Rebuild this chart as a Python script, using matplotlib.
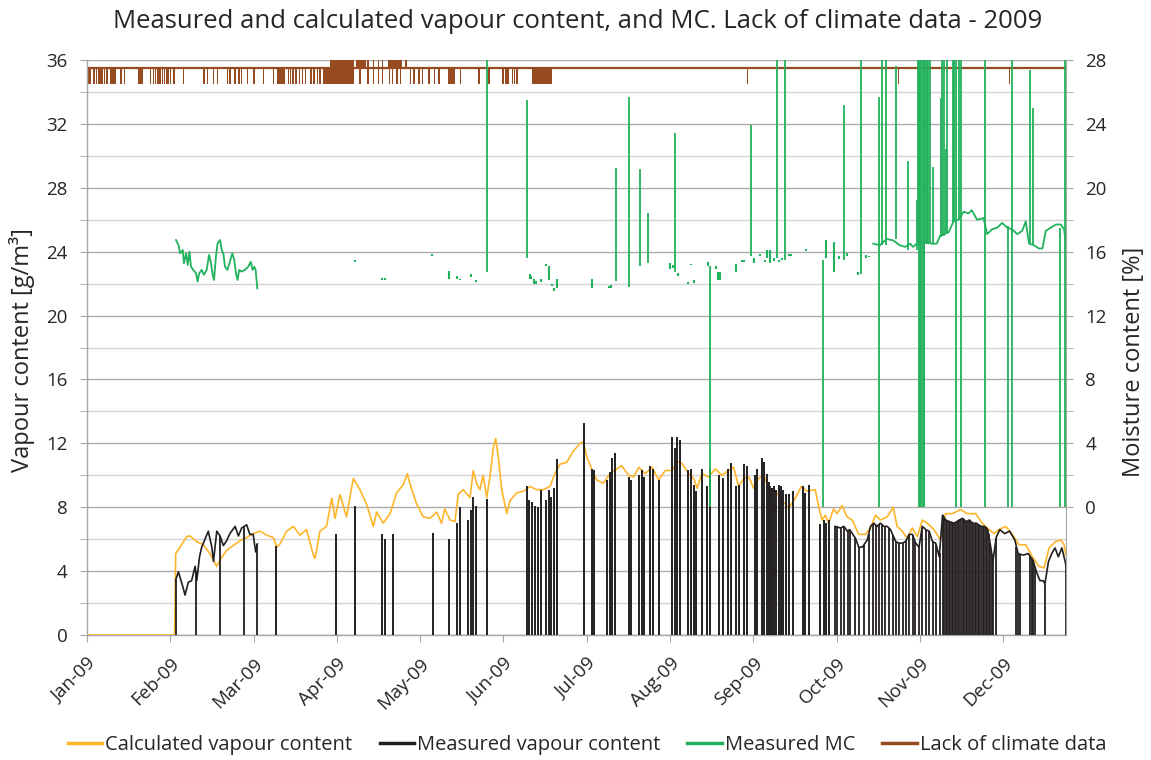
import numpy as np
import matplotlib
matplotlib.use("Agg")
import matplotlib.pyplot as plt
from matplotlib.lines import Line2D
from matplotlib.ticker import MultipleLocator, FixedLocator

plt.rcParams['font.family'] = ['Open Sans', 'DejaVu Sans']

# ---------------- data (x in days from 1 Jan 2009) ----------------
month_labels = ['Jan-09', 'Feb-09', 'Mar-09', 'Apr-09', 'May-09', 'Jun-09',
                'Jul-09', 'Aug-09', 'Sep-09', 'Oct-09', 'Nov-09', 'Dec-09']
label_step_days = 30.42
last_day = 357.6

# Calculated vapour content [g/m3]
calc_days = [0, 32.0, 32.4, 34.0, 36.4, 37.6, 40.1, 42.5, 44.9, 47.4, 48.6, 51.0, 53.4, 55.9,
             58.3, 60.7, 63.2, 65.6, 68.1, 69.3, 70.5, 72.9, 75.4, 77.8, 80.2, 82.7, 83.3, 85.1,
             87.5, 89.4, 90.6, 92.4, 94.8, 96.1, 97.3, 99.7, 102.1, 104.6, 105.8, 108.2, 110.7,
             113.1, 115.5, 117.0, 117.9, 120.4, 122.8, 125.3, 127.7, 129.5, 130.7, 132.6, 134.4,
             135.6, 137.4, 139.9, 141.1, 142.3, 143.5, 144.7, 146.0, 147.2, 148.4, 149.3, 150.2,
             151.5, 153.3, 154.5, 156.9, 159.4, 161.8, 164.2, 166.7, 169.1, 170.9, 172.8, 175.2,
             177.6, 180.1, 181.3, 182.5, 184.3, 186.2, 188.6, 191.0, 193.5, 195.3, 197.8, 199.6,
             201.6, 203.9, 206.4, 208.8, 211.2, 213.7, 215.5, 217.3, 219.8, 221.6, 222.9, 224.6,
             227.0, 229.5, 231.9, 234.4, 236.2, 238.0, 239.9, 241.7, 243.5, 245.3, 247.2, 249.0,
             251.5, 253.9, 256.3, 258.7, 260.9, 263.0, 266.0, 267.3, 268.5, 269.7, 270.9, 272.7,
             274.0, 275.8, 277.6, 279.5, 281.9, 284.3, 286.2, 288.0, 289.8, 292.3, 294.5, 295.9,
             297.8, 299.6, 301.4, 303.3, 305.1, 306.9, 309.4, 311.8, 313.6, 316.1, 319.1, 321.5,
             324.6, 327.0, 329.5, 331.3, 333.1, 335.6, 338.0, 340.4, 342.9, 345.3, 347.7, 349.6,
             351.4, 353.8, 355.7, 356.9, 357.6]
calc_vals = [0, 0, 5.1, 5.5, 6.16, 6.2, 5.85, 5.65, 5.1, 4.3, 4.7, 5.3, 5.6, 5.9,
             6.1, 6.35, 6.5, 6.25, 6.1, 5.5, 5.7, 6.5, 6.8, 6.25, 6.6, 5.0, 4.8, 6.5,
             6.8, 8.56, 7.3, 8.8, 7.4, 8.7, 9.8, 9.1, 8.2, 6.8, 7.7, 7.0, 7.6,
             8.9, 9.4, 10.1, 9.5, 8.2, 7.4, 7.3, 7.7, 7.0, 7.9, 7.2, 7.1,
             8.8, 9.1, 8.6, 10.3, 9.5, 9.1, 10.0, 8.6, 9.9, 11.7, 12.3, 11.2,
             9.1, 7.6, 8.4, 8.9, 9.0, 9.3, 9.1, 9.1, 9.3, 10.1, 10.7, 10.8,
             11.5, 12.0, 12.1, 11.2, 10.4, 9.7, 9.5, 10.1, 10.4, 10.6, 10.0, 9.9,
             10.5, 10.1, 10.5, 9.7, 10.3, 10.3, 10.85, 10.75, 10.1, 9.8, 9.2, 10.1,
             9.9, 10.4, 10.0, 10.3, 10.5, 9.3, 9.8, 9.9, 9.2, 9.8, 10.0, 9.2,
             9.0, 8.45, 7.95, 8.55, 9.3, 9.0, 9.1, 8.0, 7.2, 7.5, 7.0, 7.9,
             7.6, 8.1, 7.4, 7.2, 6.3, 6.3, 6.7, 7.5, 7.2, 7.4, 8.0, 6.8,
             6.5, 6.05, 6.7, 6.15, 7.2, 7.0, 6.6, 5.95, 7.6, 7.6, 7.85, 7.6,
             7.6, 7.0, 6.6, 6.35, 6.6, 6.8, 6.3, 5.65, 5.65, 4.9, 4.3, 4.2,
             5.45, 5.85, 5.95, 5.65, 5.0]

# Measured vapour content [g/m3] - continuous record, February-March
meas1_days = [32.4, 33.4, 35.2, 35.8, 37.0, 38.2, 39.5, 40.1, 41.1, 41.9, 43.1, 44.3, 45.6, 46.2,
              47.4, 48.6, 49.8, 51.0, 52.2, 54.1, 55.3, 56.5, 58.3, 59.5, 60.7, 61.6, 62.2]
meas1_vals = [3.44, 3.96, 2.9, 2.5, 3.3, 3.4, 4.3, 3.4, 4.9, 5.5, 6.0, 6.5, 5.5, 4.6,
              6.5, 6.2, 5.6, 5.9, 6.35, 6.8, 6.2, 6.7, 6.9, 6.3, 6.3, 5.2, 5.7]
meas1_zero_days = [32.4, 39.7, 48.6, 57.3, 62.2]

# Measured vapour content - short readings (record otherwise zero), March-October
meas_spike_days = [69.0, 90.9, 97.9, 107.6, 108.8, 111.6, 126.3, 132.1, 135.3, 136.2, 139.0, 140.2,
                   141.1, 142.1, 146.0, 160.6, 161.6, 162.7, 163.6, 164.9, 165.8, 167.7, 168.8,
                   169.6, 170.6, 171.5, 181.5, 184.3, 185.2, 190.1, 191.0, 191.9, 192.8, 197.8,
                   198.8, 201.7, 202.6, 203.6, 205.7, 206.6, 208.8, 213.7, 214.6, 215.5, 216.5,
                   219.5, 220.7, 221.6, 222.5, 224.6, 226.4, 227.6, 230.7, 232.3, 234.0, 235.2,
                   237.0, 238.0, 240.0, 241.1, 244.1, 244.9, 246.6, 247.4, 248.4, 249.0, 249.6,
                   250.3, 250.8, 251.8, 252.6, 253.5, 254.4, 255.4, 256.3, 257.8, 261.4, 262.4,
                   263.6, 267.7, 269.2, 270.1, 270.9]
meas_spike_vals = [5.6, 6.3, 8.1, 6.35, 6.0, 6.3, 6.4, 6.0, 7.0, 8.0, 7.2, 7.85,
                   8.65, 8.1, 8.5, 9.3, 8.45, 8.35, 8.1, 8.0, 9.1, 8.45, 9.1,
                   8.65, 9.2, 11.0, 13.3, 10.4, 10.3, 9.7, 10.2, 11.1, 11.4, 9.9,
                   9.7, 10.0, 10.3, 9.9, 10.6, 10.4, 9.7, 12.4, 11.7, 12.4, 12.2,
                   10.3, 10.4, 9.4, 9.0, 10.4, 9.3, 10.4, 10.0, 9.8, 10.4, 10.8,
                   9.3, 9.4, 10.7, 10.6, 10.0, 10.4, 11.1, 10.85, 10.1, 9.6, 9.3,
                   9.2, 9.3, 9.1, 9.4, 9.3, 9.1, 8.8, 8.8, 9.0, 9.3, 8.9,
                   9.4, 6.95, 7.2, 7.0, 7.2]

# Measured vapour content - continuous record, October-December
meas2_days = [273.4, 275.2, 276.5, 277.7, 278.6, 280.7, 281.9, 283.2, 285.0, 286.2, 287.4, 288.6,
              289.8, 291.1, 292.3, 293.5, 295.4, 296.6, 297.8, 299.0, 300.3, 301.5, 302.7, 303.9,
              305.1, 306.4, 307.6, 308.8, 310.0, 311.3, 312.5, 313.7, 315.0, 316.8, 318.6, 319.8,
              321.1, 322.3, 323.5, 324.8, 326.6, 327.8, 329.0, 330.3, 330.9, 332.1, 333.4, 335.2,
              337.0, 338.9, 340.1, 342.0, 343.8, 345.6, 346.9, 348.1, 349.3, 349.9, 351.2, 352.4,
              353.6, 354.8, 356.1, 357.3, 357.6]
meas2_vals = [6.8, 6.7, 6.8, 6.5, 6.6, 6.05, 5.5, 5.5, 5.95, 6.8, 7.0, 6.8,
              7.0, 6.8, 6.8, 6.6, 5.85, 5.75, 5.75, 5.85, 6.3, 6.3, 5.75, 5.5,
              6.8, 6.6, 6.5, 5.85, 5.75, 4.9, 7.5, 7.2, 7.1, 7.0, 7.2, 7.3,
              7.1, 7.2, 7.0, 7.0, 6.8, 6.8, 6.6, 5.3, 4.6, 6.1, 6.6, 6.35,
              6.5, 5.95, 5.1, 5.0, 5.1, 4.65, 3.9, 3.4, 3.4, 3.2, 4.6, 5.1,
              5.45, 4.9, 5.45, 4.6, 4.3]
meas2_zero_days = [273.4, 273.8, 275.4, 276.6, 277.8, 278.7, 280.5, 282.1, 283.7, 285.5, 287.0,
                   288.2, 289.4, 290.4, 291.6, 292.8, 294.3, 295.5, 296.7, 297.9, 299.2, 300.4,
                   301.6, 302.6, 303.8, 305.0, 306.4, 307.7, 308.9, 310.1, 311.4,
                   312.5, 313.0, 313.6, 314.1, 314.7, 315.3, 315.8, 316.4, 317.0, 317.5, 318.1,
                   318.6, 319.2, 319.8, 320.3, 320.9, 321.5, 322.0, 322.6, 323.1, 323.7, 324.3,
                   324.8, 325.4, 326.0, 326.5, 327.1, 327.6, 328.2, 328.8, 329.3, 329.9, 330.5,
                   331.0, 332.1, 339.5, 340.1, 340.7, 344.4, 345.0, 345.6, 346.3, 349.9, 357.6]

# Measured MC [%] - continuous records
mc1_days = [32.5, 33.4, 34.0, 35.0, 35.4, 36.2, 36.8, 37.4, 38.0, 38.8, 39.8, 40.4, 41.0, 41.9,
            42.7, 43.7, 44.6, 45.2, 45.9, 46.4, 47.1, 47.7, 48.6, 49.2, 49.8, 50.4, 51.3, 52.2,
            53.1, 53.8, 54.4, 55.0, 55.6, 56.5, 57.7, 58.9, 59.8, 60.5, 61.1, 61.6, 62.2]
mc1_vals = [16.73, 16.42, 15.9, 16.1, 15.27, 15.9, 15.17, 16.0, 15.06, 14.86, 14.65, 14.13,
            14.65, 14.86, 14.55, 14.86, 15.8, 15.37, 14.55, 14.23, 15.7, 16.52, 16.73, 16.1,
            15.9, 15.06, 14.86, 15.37, 15.9, 15.48, 14.65, 14.23, 14.86, 14.75, 14.86, 15.06,
            15.37, 14.86, 15.06, 14.86, 13.7]
mc2_days = [287.2, 289.6, 292.1, 294.5, 296.9, 298.8, 300.6, 301.8, 303.6, 306.7, 308.5, 310.4,
            311.6, 312.8, 314.7, 316.5, 318.3, 320.2, 322.0, 323.2, 325.1, 327.5, 328.8, 330.6,
            332.4, 334.3, 336.1, 337.9, 339.8, 341.6, 342.9, 344.1, 345.9, 347.7, 349.0, 350.2,
            352.0, 353.9, 355.7, 356.9, 357.6]
mc2_vals = [16.5, 16.4, 16.8, 16.7, 16.4, 16.3, 16.5, 16.3, 16.6, 16.6, 16.5, 16.5,
            17.0, 17.1, 17.2, 17.9, 18.0, 18.5, 18.4, 18.6, 18.0, 18.1, 17.1, 17.4,
            17.5, 17.8, 17.5, 17.4, 17.1, 17.3, 17.9, 16.5, 16.4, 16.2, 16.2, 17.3,
            17.5, 17.7, 17.7, 17.4, 16.4]
# Measured MC - isolated short readings (day, low, high)
mc_bit_days = [97.9, 107.6, 108.8, 126.2, 132.1, 135.3, 136.2, 140.2, 142.1, 161.8, 162.3, 163.3,
               163.9, 165.7, 167.7, 168.7, 169.7, 170.6, 171.5, 184.3, 190.8, 191.4, 212.9, 213.9,
               216.0, 219.6, 220.8, 221.7, 226.7, 229.6, 230.6, 231.1, 237.2, 239.4, 239.9, 243.7,
               245.8, 247.7, 248.4, 249.5, 251.0, 252.6, 253.8, 256.5, 257.2, 262.8, 269.8, 272.8,
               274.7, 277.5, 281.7, 284.5, 285.6]
mc_bit_lo = [15.35, 14.2, 14.2, 15.75, 14.3, 14.3, 14.2, 14.4, 14.1, 14.3, 14.3, 14.0,
             14.0, 14.1, 15.1, 14.2, 13.85, 13.55, 13.7, 13.7, 13.7, 13.75, 14.9, 15.0,
             14.5, 14.0, 15.15, 14.05, 15.1, 14.9, 14.2, 14.2, 14.7, 15.35, 15.35, 15.3,
             15.75, 15.35, 15.6, 15.3, 15.4, 15.35, 15.5, 15.75, 15.75, 16.05, 15.6, 14.7,
             15.55, 15.7, 14.55, 15.6, 15.65]
mc_bit_hi = [15.5, 14.35, 14.35, 15.85, 14.8, 14.5, 14.3, 14.6, 14.25, 14.6, 14.45, 14.3,
             14.15, 14.3, 15.25, 15.1, 13.95, 13.7, 14.3, 14.3, 13.85, 13.9, 15.3, 15.15,
             14.65, 14.1, 15.25, 14.2, 15.35, 15.1, 14.7, 14.7, 15.2, 15.45, 15.45, 15.6,
             15.85, 15.45, 16.1, 16.1, 15.6, 15.5, 15.6, 15.85, 15.85, 16.15, 16.7, 16.6,
             15.7, 15.9, 14.7, 15.8, 15.75]
# Measured MC - spikes (day, low, high); 40 = off scale
mc_spike_days = [146.0, 160.6, 193.1, 198.1, 202.0, 205.0, 214.9, 227.5, 242.5, 251.9, 255.0,
                 268.8, 276.5, 282.6, 289.2, 290.5, 291.7, 295.6, 300.0, 303.0, 303.6, 304.0,
                 304.4, 304.8, 305.2, 305.6, 305.9, 306.3, 306.7, 307.2, 308.1, 309.1, 311.8,
                 312.4, 313.0, 313.7, 314.3, 316.2, 316.8, 317.6, 318.5, 319.1, 327.9, 336.5,
                 338.0, 344.3, 345.4, 355.5, 357.3]
mc_spike_lo = [14.75, 15.6, 14.16, 13.77, 15.08, 15.3, 14.75, 0, 15.75, 15.6, 15.5,
               0, 15.5, 14.6, 0, 16.4, 16.4, 16.8, 16.1, 16.1, 16.4, 0,
               0, 0, 0, 0, 0, 16.5, 16.5, 16.5, 16.5, 16.5, 16.9,
               17.0, 17.0, 17.1, 17.2, 17.8, 17.9, 0, 18.0, 0, 0, 0,
               0, 16.5, 16.4, 0, 0]
mc_spike_hi = [40, 25.5, 21.26, 25.71, 21.18, 18.4, 23.4, 15.1, 23.9, 40, 40,
               15.5, 25.2, 40, 25.7, 40, 40, 27.6, 21.7, 19.25, 40, 40,
               40, 40, 40, 40, 40, 40, 40, 40, 40, 21.3, 25.6,
               40, 40, 22.4, 40, 40, 40, 40, 40, 40, 40, 17.6,
               40, 27.4, 25.0, 17.5, 40]

# Lack of climate data: baseline level and marked periods (start day, duration, low, high)
lack_level = 35.5
lack_start = [0.1, 0.9, 2.3, 3.2, 4.1, 4.8, 5.4, 6.2, 7.0, 8.4, 9.0, 9.6, 10.2, 12.1, 13.5,
              18.7, 23.0, 24.0, 24.8, 25.6, 26.4, 27.3, 28.0, 28.7, 29.4, 30.3, 31.5, 34.9,
              42.5, 43.7, 45.9, 47.4, 51.0, 52.0, 53.7, 55.3, 56.1, 58.3, 60.7, 64.2, 67.8,
              69.3, 73.3, 74.1, 74.9, 76.0, 77.3, 78.4, 79.6, 81.5, 82.7, 83.9, 84.9, 86.3,
              88.7, 98.3, 99.5, 102.4, 104.3, 106.2, 107.6, 110.1, 110.3, 111.4, 113.0, 114.2,
              116.1, 117.9, 119.2, 121.0, 122.2, 124.7, 126.7, 128.3, 131.9, 136.2, 142.9,
              146.6, 151.7, 152.7, 153.5, 155.1, 155.9, 156.7, 162.4, 240.9, 296.1, 336.6]
lack_duration = [0.4, 0.4, 0.4, 0.4, 0.4, 0.4, 0.4, 0.4, 0.4, 0.4, 0.4, 0.4, 0.4, 0.4, 0.4,
                 1.9, 0.4, 0.4, 0.4, 0.4, 0.4, 0.4, 0.4, 0.4, 0.4, 0.4, 0.4, 0.4,
                 0.4, 0.4, 0.4, 0.4, 0.4, 0.4, 0.4, 0.4, 0.4, 0.4, 0.4, 0.4, 0.4,
                 3.2, 0.4, 0.4, 0.4, 0.4, 0.4, 0.4, 0.4, 0.4, 0.4, 0.4, 0.4, 2.4,
                 8.8, 3.6, 0.4, 0.4, 0.4, 0.4, 0.4, 4.8, 0.4, 0.4, 0.4, 0.4,
                 0.9, 0.4, 0.4, 0.4, 0.4, 0.4, 0.4, 0.4, 2.5, 0.4, 0.4,
                 0.4, 0.4, 0.4, 0.4, 0.4, 0.4, 0.4, 7.3, 0.4, 0.4, 0.4]
lack_low = [34.5] * 54 + [34.5, 35.5, 34.5, 34.5, 34.5, 34.5, 34.5, 35.5, 34.5, 34.5, 34.5, 34.5,
                          35.5] + [34.5] * 21
lack_high = [35.5] * 54 + [36.0, 36.0, 35.5, 36.0, 36.0, 36.0, 36.0, 36.0, 35.5, 35.5, 35.5, 35.5,
                           36.0] + [35.5] * 21

# ---------------- styling ----------------
C_CALC = '#FDB52B'
C_MEAS = '#231F20'
C_MC = '#22B15C'
C_LACK = '#974B20'
C_GRID_MAJ = '#ABABAB'
C_GRID_MIN = '#D2D2D2'
C_AX = '#A6A6A6'
C_TXT = '#262626'

W, H = 1151, 760
fig = plt.figure(figsize=(W / 100, H / 100), dpi=100)
ax = fig.add_axes([87 / W, 1 - 635 / H, (1066 - 87) / W, (635 - 60) / H])
ax.set_xlim(0, last_day)
ax.set_ylim(0, 36)

# grid
ax.yaxis.set_major_locator(MultipleLocator(4))
ax.yaxis.set_minor_locator(MultipleLocator(2))
ax.grid(which='major', axis='y', color=C_GRID_MAJ, lw=1.0, zorder=0)
ax.grid(which='minor', axis='y', color=C_GRID_MIN, lw=1.0, zorder=0)
ax.set_axisbelow(True)

# x axis
xt = [i * label_step_days for i in range(len(month_labels))]
ax.xaxis.set_major_locator(FixedLocator(xt))
ax.set_xticklabels(month_labels, rotation=45, ha='right', rotation_mode='anchor')

for sp in ['top', 'right']:
    ax.spines[sp].set_visible(False)
for sp in ['left', 'bottom']:
    ax.spines[sp].set_color(C_AX)
    ax.spines[sp].set_linewidth(1.0)
ax.tick_params(axis='both', which='both', direction='out', length=5, color=C_AX,
               labelcolor=C_TXT, labelsize=13.5, pad=9)
ax.tick_params(axis='y', which='minor', length=5)

# lack of climate data
ax.axhline(lack_level, color=C_LACK, lw=1.6, zorder=2)
lack_w = [max(d, 0.55) for d in lack_duration]
ax.bar(lack_start, [h - l for h, l in zip(lack_high, lack_low)], width=lack_w,
       bottom=lack_low, align='edge', color=C_LACK, linewidth=0, zorder=2)

# calculated vapour content
ax.plot(calc_days, calc_vals, color=C_CALC, lw=1.2, zorder=3)

# measured vapour content
ax.plot(meas1_days, meas1_vals, color=C_MEAS, lw=1.2, zorder=4)
ax.vlines(meas1_zero_days, 0, np.interp(meas1_zero_days, meas1_days, meas1_vals),
          color=C_MEAS, lw=1.3, zorder=4)
ax.vlines(meas_spike_days, 0, meas_spike_vals, color=C_MEAS, lw=1.4, zorder=4)
ax.plot(meas2_days, meas2_vals, color=C_MEAS, lw=1.2, zorder=4)
ax.vlines(meas2_zero_days, 0, np.interp(meas2_zero_days, meas2_days, meas2_vals),
          color=C_MEAS, lw=1.3, zorder=4)

# measured MC on right axis
ax2 = ax.twinx()
ax2.set_ylim(-8, 28)
ax2.set_xlim(0, last_day)
ax2.yaxis.set_major_locator(FixedLocator(list(range(0, 29, 4))))
ax2.yaxis.set_minor_locator(FixedLocator(list(range(2, 28, 4))))
for sp in ['top', 'left', 'bottom']:
    ax2.spines[sp].set_visible(False)
ax2.spines['right'].set_color(C_AX)
ax2.tick_params(axis='y', which='both', direction='out', length=5, color=C_AX,
                labelcolor=C_TXT, labelsize=13.5, pad=9)
ax2.plot(mc1_days, mc1_vals, color=C_MC, lw=1.3, zorder=3)
ax2.plot(mc2_days, mc2_vals, color=C_MC, lw=1.3, zorder=3)
ax2.vlines(mc_bit_days, mc_bit_lo, mc_bit_hi, color=C_MC, lw=1.5, zorder=3)
ax2.vlines(mc_spike_days, mc_spike_lo, mc_spike_hi, color=C_MC, lw=1.3, zorder=3)

# texts
fig.text(578 / W, 1 - 21 / H,
         'Measured and calculated vapour content, and MC. Lack of climate data - 2009',
         ha='center', va='center', fontsize=18.5, color=C_TXT)
fig.text(22 / W, 1 - 350 / H, 'Vapour content [g/m³]', rotation=90, ha='center',
         va='center', fontsize=17, color=C_TXT)
fig.text(1134 / W, 1 - 362 / H, 'Moisture content [%]', rotation=90, ha='center',
         va='center', fontsize=17, color=C_TXT)

handles = [Line2D([], [], color=c, lw=2.5) for c in (C_CALC, C_MEAS, C_MC, C_LACK)]
labels = ['Calculated vapour content', 'Measured vapour content', 'Measured MC',
          'Lack of climate data']
fig.legend(handles, labels, loc='center', bbox_to_anchor=(587 / W, 1 - 745 / H), ncol=4,
           frameon=False, handlelength=1.7, handletextpad=0.15, columnspacing=1.35,
           fontsize=14.5, labelcolor=C_TXT)

fig.savefig('out.png', dpi=100)
